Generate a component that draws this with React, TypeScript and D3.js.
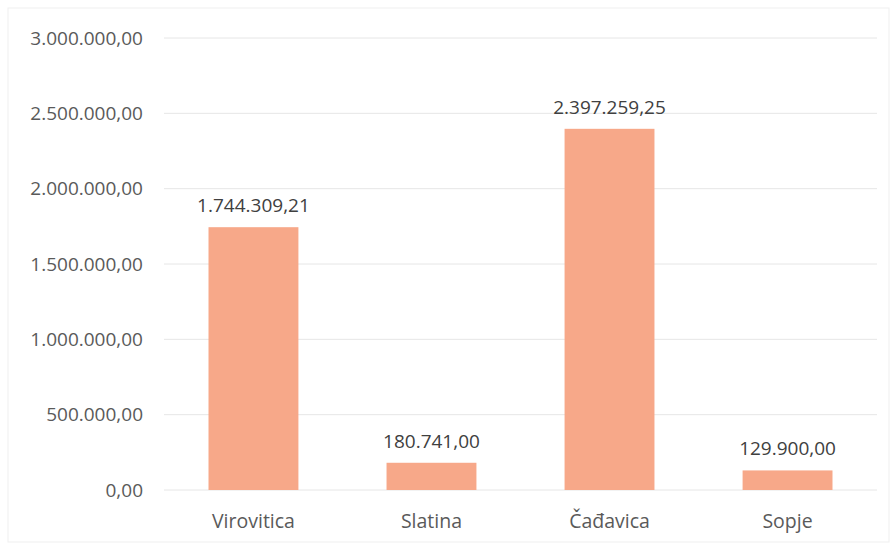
import React from 'react';
import * as d3 from 'd3';

const categories = ['Virovitica', 'Slatina', 'Čađavica', 'Sopje'];
const values = [1744309.21, 180741.0, 2397259.25, 129900.0];
const yTicks = [0, 500000, 1000000, 1500000, 2000000, 2500000, 3000000];

const W = 893;
const H = 544;
const margin = { top: 38, right: 16, bottom: 54, left: 164 };

// hr-HR style number: 1.744.309,21
const fmt = (v: number) => {
  const [int, dec] = v.toFixed(2).split('.');
  return int.replace(/\B(?=(\d{3})+(?!\d))/g, '.') + ',' + dec;
};

const App: React.FC = () => {
  const x = d3
    .scaleBand<string>()
    .domain(categories)
    .range([margin.left, W - margin.right])
    .paddingInner(0.495)
    .paddingOuter(0.25);

  const y = d3
    .scaleLinear()
    .domain([0, 3000000])
    .range([H - margin.bottom, margin.top]);

  const font = '"Open Sans", "Noto Sans", sans-serif';

  return (
    <svg width={W} height={H} style={{ position: 'absolute', left: 0, top: 0, background: '#fff' }}>
      <rect x={8} y={8} width={W - 12} height={H - 10} fill="#fff" stroke="#efefef" strokeWidth={1} />
      {yTicks.map(t => (
        <g key={t}>
          <line x1={x.range()[0]} x2={x.range()[1]} y1={y(t)} y2={y(t)} stroke="#e6e6e6" strokeWidth={1} />
          <text
            x={143}
            y={y(t)}
            dy="0.35em"
            textAnchor="end"
            fontFamily={font}
            fontSize={19}
            fill="#5a5a5a"
          >
            {fmt(t)}
          </text>
        </g>
      ))}
      {categories.map((c, i) => (
        <g key={c}>
          <rect
            x={x(c)}
            y={y(values[i])}
            width={x.bandwidth()}
            height={y(0) - y(values[i])}
            fill="#f7a889"
          />
          <text
            x={(x(c) as number) + x.bandwidth() / 2}
            y={y(values[i]) - 15}
            textAnchor="middle"
            fontFamily={font}
            fontSize={19}
            fill="#404040"
          >
            {fmt(values[i])}
          </text>
          <text
            x={(x(c) as number) + x.bandwidth() / 2}
            y={y(0) + 31}
            dy="0.35em"
            textAnchor="middle"
            fontFamily={font}
            fontSize={19.5}
            fill="#5a5a5a"
          >
            {c}
          </text>
        </g>
      ))}
    </svg>
  );
};

export default App;
